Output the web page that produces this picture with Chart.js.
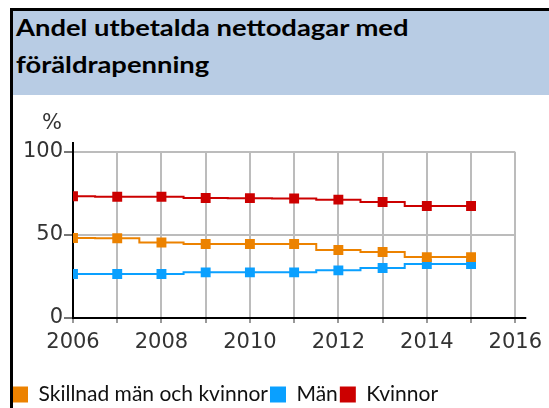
<!DOCTYPE html>
<html><head><meta charset="utf-8">
<script src="https://cdn.jsdelivr.net/npm/chart.js@4"></script>
<style>
html,body{margin:0;padding:0;background:#fff;width:549px;height:408px;overflow:hidden;}
#wrap{position:relative;width:549px;height:408px;overflow:hidden}
#frame{position:absolute;left:10px;top:8px;width:539px;height:400px;border-left:3px solid #000;border-top:3px solid #000;box-sizing:border-box;z-index:2;pointer-events:none}
#title{position:absolute;left:13px;top:11px;width:536px;height:84px;background:#b8cce4;overflow:hidden}
#title div{position:absolute;left:3px;top:-2px;font:bold 23px Lato;line-height:36.7px;color:#000;white-space:nowrap;transform:scaleX(1.19);transform-origin:0 0}
canvas{position:absolute;left:0;top:0}
</style></head><body>
<div id="wrap">
<div id="title"><div>Andel utbetalda nettodagar med<br>föräldrapenning</div></div>
<canvas id="c" width="549" height="415"></canvas>
<div id="frame"></div>
</div>
<script>
const years = [2006, 2007, 2008, 2009, 2010, 2011, 2012, 2013, 2014, 2015];
const skillnad = [48.2, 48.0, 45.5, 44.6, 44.6, 44.6, 41.0, 39.8, 36.7, 36.7];
const man = [26.5, 26.5, 26.5, 27.5, 27.5, 27.5, 28.7, 30.1, 32.5, 32.5];
const kvinnor = [73.3, 73.0, 73.0, 72.3, 72.2, 72.0, 71.3, 69.9, 67.5, 67.5];
const seriesNames = ['Skillnad män och kvinnor', 'Män', 'Kvinnor'];
const xTicks = [2006, 2008, 2010, 2012, 2014, 2016];
const yTicks = [0, 50, 100];
const yUnit = '%';

const colors = ['#ec8200', '#0aa0ff', '#cc0000'];
const toPts = arr => years.map((y, i) => ({x: y, y: arr[i]}));

const extras = {
  id: 'extras',
  afterDraw(chart) {
    const {ctx, chartArea: a} = chart;
    ctx.save();
    ctx.strokeStyle = '#000';
    ctx.lineWidth = 2;
    ctx.beginPath();
    ctx.moveTo(a.left, a.top - 10); ctx.lineTo(a.left, a.top);
    ctx.moveTo(a.right, a.bottom); ctx.lineTo(a.right + 11, a.bottom);
    ctx.stroke();
    ctx.fillStyle = '#333';
    ctx.font = '21px "DejaVu Sans"';
    ctx.textAlign = 'center';
    ctx.textBaseline = 'middle';
    ctx.fillText(yUnit, a.left - 21, a.top - 28);
    ctx.restore();
  }
};

const mk = (i, arr) => ({
  label: seriesNames[i],
  data: toPts(arr),
  borderColor: colors[i],
  backgroundColor: colors[i],
  borderWidth: 2,
  stepped: 'middle',
  pointStyle: 'rect',
  pointRadius: 7,
  pointBorderWidth: 0,
  pointBackgroundColor: colors[i]
});

new Chart(document.getElementById('c'), {
  type: 'line',
  data: { datasets: [mk(0, skillnad), mk(1, man), mk(2, kvinnor)] },
  options: {
    responsive: false,
    devicePixelRatio: 1,
    animation: false,
    events: [],
    layout: { padding: { left: 10, top: 152, right: 33, bottom: 0 } },
    plugins: {
      tooltip: { enabled: false },
      legend: {
        position: 'bottom',
        align: 'start',
        labels: {
          boxWidth: 16, boxHeight: 16, padding: 2,
          color: '#111',
          font: { family: 'Lato', size: 21 },
          generateLabels(chart) {
            return chart.data.datasets.map((d, i) => ({
              text: d.label, fillStyle: d.borderColor, strokeStyle: d.borderColor,
              lineWidth: 0, hidden: false, datasetIndex: i, fontColor: '#111'
            }));
          }
        }
      }
    },
    scales: {
      x: {
        type: 'linear', min: 2006, max: 2016,
        afterBuildTicks(scale) {
          const t = [];
          for (let v = 2006; v <= 2016; v++) t.push({value: v});
          scale.ticks = t;
        },
        afterFit(scale) { scale.height = 64; },
        ticks: {
          autoSkip: false, maxRotation: 0, padding: 7,
          color: '#333', font: { family: 'DejaVu Sans', size: 21 },
          callback: v => xTicks.includes(v) ? String(v) : ''
        },
        grid: { color: '#bcbcbc', lineWidth: 2, tickLength: 5, tickColor: '#999' },
        border: { color: '#000', width: 2 }
      },
      y: {
        min: 0, max: 100,
        afterBuildTicks(scale) { scale.ticks = yTicks.map(v => ({value: v})); },
        afterFit(scale) { scale.width = 63; },
        ticks: { padding: 1, color: '#333', font: { family: 'DejaVu Sans', size: 21 } },
        grid: { color: '#bcbcbc', lineWidth: 2, tickLength: 9, tickColor: '#777' },
        border: { color: '#000', width: 2 }
      }
    }
  },
  plugins: [extras]
});
</script>
</body></html>
